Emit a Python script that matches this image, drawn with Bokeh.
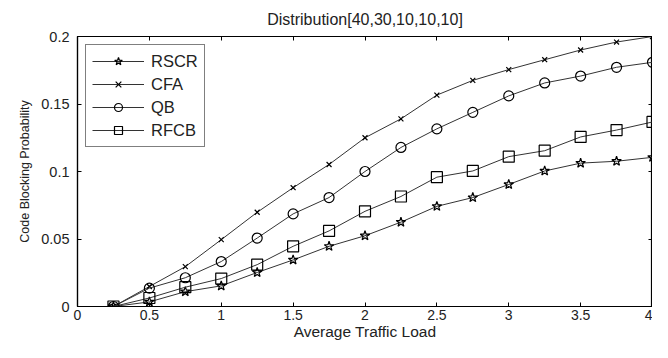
from bokeh.plotting import figure
from bokeh.models import (Legend, LegendItem, LinearAxis, FixedTicker,
                          NumeralTickFormatter, CustomJSTickFormatter, Range1d)
from bokeh.embed import file_html
from bokeh.resources import INLINE

# ---- data ----
load = [0.25, 0.5, 0.75, 1.0, 1.25, 1.5, 1.75, 2.0, 2.25, 2.5, 2.75, 3.0, 3.25, 3.5, 3.75, 4.0]
rscr = [0.0, 0.0034, 0.011, 0.0153, 0.0252, 0.0345, 0.0446, 0.0524, 0.0625, 0.0742, 0.0807, 0.0904, 0.1004, 0.1062, 0.1076, 0.1105]
cfa = [0.0, 0.0148, 0.0295, 0.0495, 0.0698, 0.088, 0.1052, 0.125, 0.139, 0.1566, 0.1675, 0.1755, 0.1828, 0.19, 0.1959, 0.2]
qb = [0.0, 0.0136, 0.0213, 0.0333, 0.0507, 0.0686, 0.0807, 0.1, 0.1178, 0.1316, 0.1438, 0.156, 0.1656, 0.1707, 0.1772, 0.1809]
rfcb = [0.0, 0.0063, 0.0143, 0.0207, 0.031, 0.0446, 0.056, 0.0705, 0.0815, 0.0958, 0.1004, 0.111, 0.1154, 0.1256, 0.1307, 0.1367]
series_names = ["RSCR", "CFA", "QB", "RFCB"]
x_ticks = [0, 0.5, 1, 1.5, 2, 2.5, 3, 3.5, 4]
y_ticks = [0, 0.05, 0.1, 0.15, 0.2]
title_text = "Distribution[40,30,10,10,10]"
x_label = "Average Traffic Load"
y_label = "Code Blocking Probability"

FONT = "Liberation Sans"
TXT = "#222222"

p = figure(width=652, height=342, output_backend="svg", toolbar_location=None,
           x_range=Range1d(0, 4), y_range=Range1d(0, 0.2),
           min_border_left=77, min_border_right=0, min_border_top=4, min_border_bottom=0)
p.title.text = title_text
p.title.align = "center"
p.title.text_font = FONT
p.title.text_font_size = "16px"
p.title.text_font_style = "normal"
p.title.text_color = TXT
p.title.standoff = 17
p.xgrid.visible = False
p.ygrid.visible = False
p.outline_line_color = "black"
p.outline_line_width = 1.2

def style_axis(ax, ticks, show_labels=True):
    ax.ticker = FixedTicker(ticks=ticks)
    ax.major_tick_in = 4
    ax.major_tick_out = 0
    ax.minor_tick_line_color = None
    ax.axis_line_color = "black"
    ax.axis_line_width = 1.2
    ax.major_tick_line_color = "black"
    ax.major_label_text_font = FONT
    ax.major_label_text_font_size = "14.5px"
    ax.major_label_text_color = TXT
    ax.major_label_standoff = 4
    ax.axis_label_text_font = FONT
    ax.axis_label_text_font_size = "16px"
    ax.axis_label_text_font_style = "normal"
    ax.axis_label_text_color = TXT
    if not show_labels:
        ax.formatter = CustomJSTickFormatter(code="return ''")
        ax.major_label_standoff = 0
        ax.axis_label_standoff = 0

style_axis(p.xaxis[0], x_ticks)
p.xaxis[0].formatter = NumeralTickFormatter(format="0.[0]")
p.xaxis[0].major_label_text_font_size = "14px"
p.xaxis[0].major_label_standoff = 3
p.xaxis[0].axis_label = x_label
p.xaxis[0].axis_label_text_font_size = "15.5px"
p.xaxis[0].axis_label_standoff = 0
style_axis(p.yaxis[0], y_ticks)
p.yaxis[0].formatter = NumeralTickFormatter(format="0.[00]")
p.yaxis[0].major_label_standoff = 8
p.yaxis[0].axis_label = y_label
p.yaxis[0].axis_label_text_font_size = "12.5px"
p.yaxis[0].axis_label_standoff = 6

ra = LinearAxis()
style_axis(ra, y_ticks, show_labels=False)
p.add_layout(ra, "right")
ta = LinearAxis()
style_axis(ta, x_ticks, show_labels=False)
p.add_layout(ta, "above")

col = "#333333"
items = []
specs = [(rscr, "star", 10), (cfa, "x", 7), (qb, "circle", 10), (rfcb, "square", 11)]
for name, (ys, mk, sz) in zip(series_names, specs):
    ln = p.line(load, ys, line_color=col, line_width=1)
    sc = p.scatter(load, ys, marker=mk, size=sz, line_color="black",
                   fill_color=None, line_width=1.2)
    items.append(LegendItem(label=name, renderers=[ln, sc]))

legend = Legend(items=items, location="top_left", border_line_color="black",
                border_line_width=1.2, background_fill_alpha=1,
                label_text_font=FONT, label_text_font_size="16.5px",
                label_text_color=TXT, glyph_width=52, glyph_height=20,
                label_height=20, spacing=3, padding=6, margin=8,
                label_standoff=7)
p.add_layout(legend)

open("out.html", "w").write(file_html(p, INLINE))
